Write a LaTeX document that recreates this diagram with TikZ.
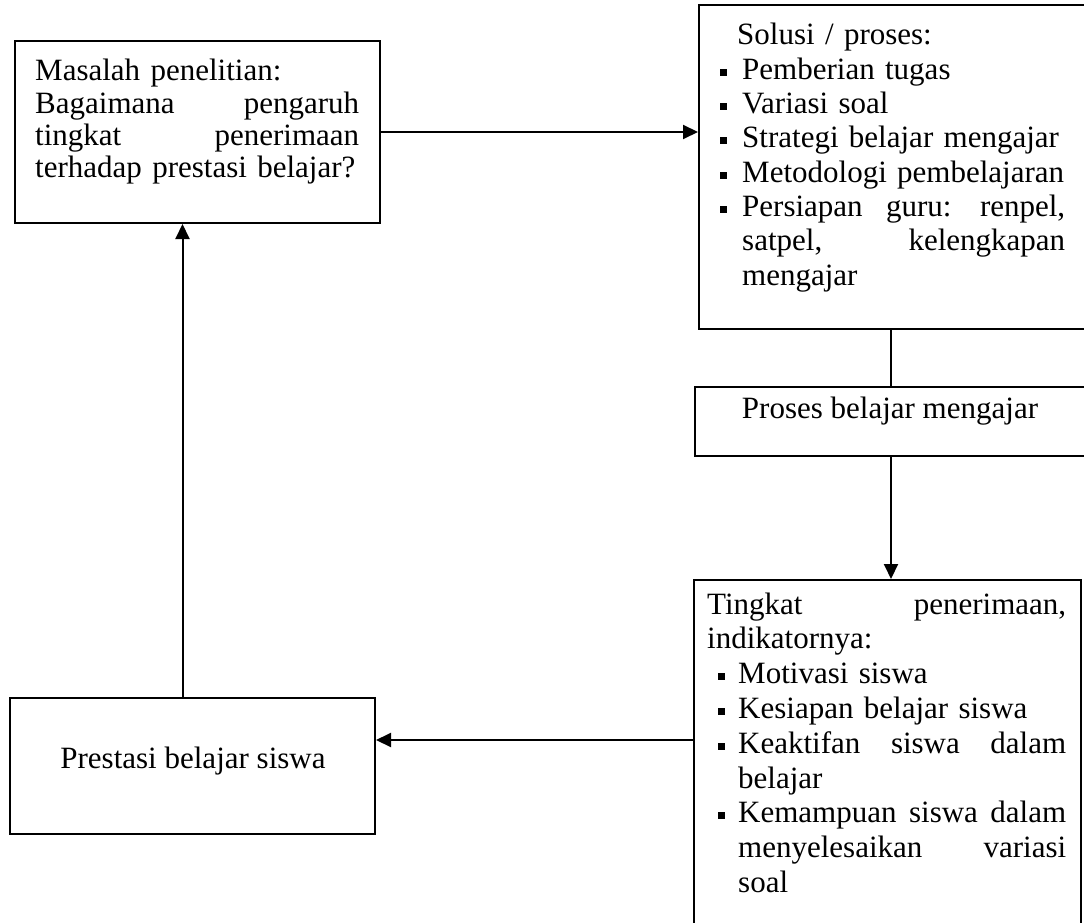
\documentclass[tikz,border=0pt]{standalone}
\usepackage{fontspec}
\setmainfont{Liberation Serif}
\usetikzlibrary{arrows.meta,calc}
\newcommand{\bul}{\rule[3.5pt]{7pt}{7pt}}
\newcommand{\bi}{\makebox[22pt][l]{\bul}}
\newcommand{\bj}{\hspace*{11pt}\makebox[20pt][l]{\bul}}
\begin{document}
\begin{tikzpicture}[x=1pt,y=-1pt,
  box/.style={draw,line width=2pt,rectangle,inner sep=0pt,anchor=north west},
  txt/.style={inner sep=0pt,anchor=base west,align=left},
  arr/.style={line width=2pt,-{Triangle[length=15pt,width=14pt]}},
  con/.style={line width=2pt}]
\useasboundingbox (0,0) rectangle (1084,923);
\clip (0,0) rectangle (1084,923);
% boxes
\node[box,minimum width=365pt,minimum height=182pt] (A) at (14,40) {};
\node[box,minimum width=388pt,minimum height=324pt] (B) at (698,4) {};
\node[box,minimum width=392pt,minimum height=69pt] (C) at (694,386) {};
\node[box,minimum width=387pt,minimum height=361pt] (D) at (693,579) {};
\node[box,minimum width=365pt,minimum height=136pt] (E) at (9,697) {};
% texts
\node[txt,text width=324pt,font=\fontsize{31}{32.3}\selectfont] (tA) at (35,81)
  {Masalah penelitian:\\
   Bagaimana \hfill pengaruh\\
   tingkat \hfill penerimaan\\
   terhadap prestasi belajar?};
\node[txt,text width=345pt,font=\fontsize{31}{34.3}\selectfont] (tB) at (720,45)
  {\hspace*{17pt}Solusi / proses:\\
   \bi Pemberian tugas\\
   \bi Variasi soal\\
   \bi Strategi belajar mengajar\\
   \bi Metodologi pembelajaran\\
   \bi Persiapan \hfill guru: \hfill renpel,\\
   \hspace*{22pt}satpel, \hfill kelengkapan\\
   \hspace*{22pt}mengajar};
\node[inner sep=0pt,anchor=base,font=\fontsize{31}{34}\selectfont] (tC) at (890,418)
  {Proses belajar mengajar};
\node[txt,text width=359pt,font=\fontsize{31}{34.8}\selectfont] (tD) at (707,614)
  {Tingkat \hfill penerimaan,\\
   indikatornya:\\
   \bj Motivasi siswa\\
   \bj Kesiapan belajar siswa\\
   \bj Keaktifan \hfill siswa \hfill dalam\\
   \hspace*{31pt}belajar\\
   \bj Kemampuan \hfill siswa \hfill dalam\\
   \hspace*{31pt}menyelesaikan \hfill variasi\\
   \hspace*{31pt}soal};
\node[inner sep=0pt,anchor=base,font=\fontsize{31}{34}\selectfont] (tE) at (193,768)
  {Prestasi belajar siswa};
% connectors
\coordinate (eIn) at ([yshift=26pt]E.east);
\coordinate (aIn) at ([xshift=-15pt]A.south);
\draw[arr] (A.east) -- (A.east -| B.west);
\draw[con] (C.north |- B.south) -- (C.north);
\draw[arr] (C.south) -- (C.south |- D.north);
\draw[arr] (D.west |- eIn) -- (eIn);
\draw[arr] (E.north -| aIn) -- (aIn);
\end{tikzpicture}
\end{document}
